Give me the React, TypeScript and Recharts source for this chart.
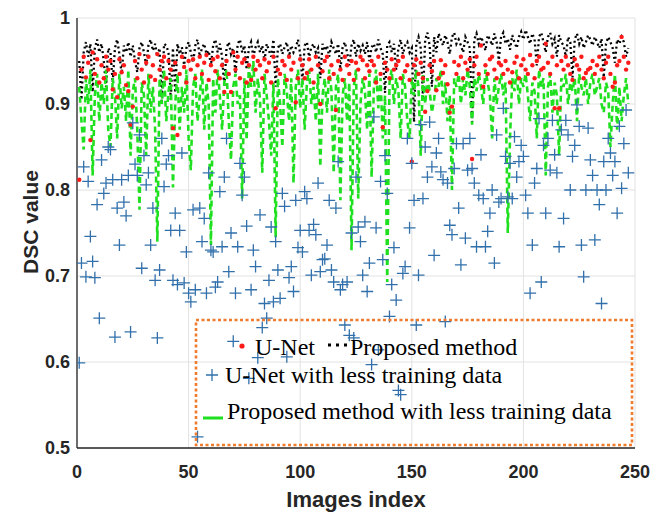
import React from 'react';
import { ComposedChart, Line, XAxis, YAxis, CartesianGrid } from 'recharts';

// U-Net (red dots)
const unet = [
  0.812, 0.94, 0.955, 0.931, 0.948, 0.858, 0.96, 0.935, 0.952, 0.925,
  0.945, 0.93, 0.955, 0.94, 0.95, 0.917, 0.935, 0.908, 0.952, 0.937,
  0.945, 0.922, 0.915, 0.876, 0.897, 0.95, 0.93, 0.958, 0.94, 0.925,
  0.948, 0.955, 0.932, 0.945, 0.928, 0.958, 0.94, 0.95, 0.955, 0.93,
  0.95, 0.94, 0.872, 0.948, 0.864, 0.935, 0.955, 0.943, 0.925, 0.95,
  0.94, 0.952, 0.93, 0.945, 0.955, 0.935, 0.948, 0.957, 0.928, 0.945,
  0.952, 0.938, 0.955, 0.93, 0.945, 0.914, 0.95, 0.935, 0.914, 0.96,
  0.94, 0.955, 0.93, 0.948, 0.952, 0.925, 0.945, 0.928, 0.955, 0.94,
  0.95, 0.945, 0.93, 0.952, 0.938, 0.948, 0.925, 0.955, 0.895, 0.94,
  0.935, 0.95, 0.945, 0.928, 0.955, 0.94, 0.948, 0.902, 0.93, 0.952,
  0.945, 0.93, 0.936, 0.952, 0.94, 0.925, 0.955, 0.945, 0.9, 0.938,
  0.95, 0.955, 0.93, 0.945, 0.935, 0.893, 0.95, 0.94, 0.928, 0.955,
  0.945, 0.935, 0.95, 0.928, 0.948, 0.94, 0.955, 0.951, 0.93, 0.945,
  0.938, 0.95, 0.945, 0.925, 0.955, 0.935, 0.873, 0.948, 0.94, 0.93,
  0.952, 0.94, 0.945, 0.95, 0.93, 0.955, 0.938, 0.945, 0.928, 0.833,
  0.945, 0.952, 0.935, 0.948, 0.93, 0.891, 0.915, 0.945, 0.938, 0.95,
  0.916, 0.93, 0.951, 0.936, 0.945, 0.923, 0.89, 0.897, 0.949, 0.935,
  0.945, 0.955, 0.93, 0.948, 0.94, 0.952, 0.836, 0.945, 0.955, 0.935,
  0.968, 0.92, 0.945, 0.935, 0.952, 0.955, 0.94, 0.93, 0.948, 0.945,
  0.935, 0.95, 0.94, 0.925, 0.937, 0.948, 0.955, 0.93, 0.945, 0.952,
  0.94, 0.935, 0.957, 0.945, 0.93, 0.95, 0.955, 0.94, 0.942, 0.97,
  0.948, 0.935, 0.955, 0.895, 0.945, 0.895, 0.95, 0.94, 0.955, 0.945,
  0.935, 0.928, 0.952, 0.945, 0.94, 0.955, 0.93, 0.936, 0.94, 0.942,
  0.95, 0.935, 0.945, 0.955, 0.94, 0.93, 0.948, 0.955, 0.935, 0.92,
  0.925, 0.945, 0.95, 0.978, 0.955, 0.94, 0.948,
];

// Proposed method (black dotted)
const proposed = [
  0.95, 0.905, 0.96, 0.972, 0.955, 0.97, 0.914, 0.965, 0.975, 0.96,
  0.97, 0.95, 0.92, 0.965, 0.96, 0.925, 0.965, 0.975, 0.958, 0.935,
  0.968, 0.96, 0.972, 0.955, 0.968, 0.95, 0.937, 0.965, 0.972, 0.96,
  0.945, 0.968, 0.975, 0.962, 0.97, 0.955, 0.965, 0.9, 0.97, 0.968,
  0.96, 0.905, 0.965, 0.913, 0.97, 0.958, 0.966, 0.945, 0.965, 0.972,
  0.96, 0.948, 0.968, 0.975, 0.955, 0.965, 0.97, 0.958, 0.962, 0.945,
  0.968, 0.975, 0.96, 0.97, 0.955, 0.92, 0.965, 0.972, 0.958, 0.965,
  0.935, 0.97, 0.975, 0.96, 0.968, 0.94, 0.965, 0.972, 0.955, 0.966,
  0.972, 0.96, 0.968, 0.95, 0.97, 0.962, 0.955, 0.975, 0.92, 0.965,
  0.97, 0.958, 0.966, 0.972, 0.955, 0.968, 0.96, 0.965, 0.975, 0.958,
  0.928, 0.968, 0.972, 0.955, 0.966, 0.97, 0.96, 0.965, 0.93, 0.97,
  0.962, 0.968, 0.955, 0.972, 0.965, 0.958, 0.97, 0.94, 0.966, 0.972,
  0.96, 0.945, 0.968, 0.975, 0.955, 0.97, 0.962, 0.968, 0.958, 0.972,
  0.95, 0.966, 0.97, 0.96, 0.975, 0.965, 0.958, 0.913, 0.968, 0.972,
  0.96, 0.97, 0.94, 0.965, 0.975, 0.958, 0.968, 0.972, 0.96, 0.965,
  0.879, 0.97, 0.978, 0.965, 0.908, 0.975, 0.983, 0.968, 0.92, 0.978,
  0.96, 0.982, 0.975, 0.968, 0.98, 0.972, 0.958, 0.978, 0.983, 0.97,
  0.975, 0.968, 0.96, 0.978, 0.972, 0.965, 0.879, 0.975, 0.982, 0.97,
  0.978, 0.972, 0.962, 0.98, 0.975, 0.968, 0.982, 0.972, 0.951, 0.978,
  0.983, 0.97, 0.976, 0.963, 0.98, 0.972, 0.965, 0.978, 0.984, 0.975,
  0.986, 0.978, 0.97, 0.982, 0.975, 0.945, 0.978, 0.983, 0.972, 0.96,
  0.978, 0.983, 0.97, 0.976, 0.955, 0.98, 0.972, 0.968, 0.955, 0.978,
  0.972, 0.931, 0.975, 0.982, 0.97, 0.978, 0.965, 0.972, 0.98, 0.975,
  0.968, 0.978, 0.972, 0.965, 0.976, 0.931, 0.97, 0.978, 0.972, 0.965,
  0.948, 0.975, 0.97, 0.978, 0.972, 0.955, 0.965,
];

// U-Net with less training data (blue plus)
const unetLess = [
  0.599, 0.715, 0.827, 0.699, 0.81, 0.746, 0.717, 0.698, 0.783, 0.651,
  0.835, 0.796, 0.808, 0.85, 0.847, 0.812, 0.629, 0.779, 0.736, 0.812,
  0.786, 0.77, 0.817, 0.635, 0.878, 0.83, 0.817, 0.864, 0.709, 0.84,
  0.806, 0.82, 0.736, 0.779, 0.695, 0.628, 0.707, 0.86, 0.804, 0.83,
  0.84, 0.753, 0.695, 0.773, 0.69, 0.753, 0.843, 0.692, 0.728, 0.68,
  0.67, 0.777, 0.684, 0.513, 0.779, 0.74, 0.767, 0.68, 0.82, 0.73,
  0.728, 0.687, 0.693, 0.798, 0.734, 0.815, 0.86, 0.705, 0.75, 0.624,
  0.68, 0.734, 0.831, 0.794, 0.815, 0.758, 0.581, 0.684, 0.73, 0.711,
  0.605, 0.771, 0.64, 0.668, 0.651, 0.695, 0.757, 0.67, 0.74, 0.707,
  0.674, 0.796, 0.781, 0.606, 0.698, 0.711, 0.682, 0.788, 0.733, 0.753,
  0.728, 0.798, 0.79, 0.753, 0.701, 0.76, 0.748, 0.808, 0.705, 0.719,
  0.72, 0.736, 0.788, 0.707, 0.693, 0.779, 0.833, 0.684, 0.69, 0.643,
  0.693, 0.631, 0.75, 0.628, 0.815, 0.757, 0.74, 0.701, 0.763, 0.682,
  0.715, 0.597, 0.885, 0.756, 0.614, 0.81, 0.719, 0.84, 0.796, 0.653,
  0.69, 0.733, 0.672, 0.567, 0.562, 0.703, 0.711, 0.86, 0.756, 0.831,
  0.788, 0.643, 0.701, 0.876, 0.79, 0.85, 0.815, 0.879, 0.827, 0.724,
  0.843, 0.86, 0.821, 0.812, 0.647, 0.808, 0.759, 0.748, 0.825, 0.854,
  0.779, 0.713, 0.854, 0.744, 0.823, 0.86, 0.825, 0.808, 0.734, 0.794,
  0.841, 0.79, 0.734, 0.752, 0.773, 0.8, 0.715, 0.864, 0.786, 0.79,
  0.895, 0.839, 0.792, 0.831, 0.79, 0.862, 0.815, 0.833, 0.852, 0.839,
  0.794, 0.773, 0.68, 0.736, 0.808, 0.825, 0.883, 0.693, 0.852, 0.773,
  0.86, 0.823, 0.881, 0.841, 0.82, 0.734, 0.87, 0.767, 0.881, 0.864,
  0.8, 0.839, 0.852, 0.899, 0.874, 0.736, 0.699, 0.8, 0.872, 0.835,
  0.817, 0.742, 0.8, 0.783, 0.668, 0.833, 0.8, 0.86, 0.843, 0.817,
  0.833, 0.773, 0.874, 0.802, 0.854, 0.893, 0.82,
];

// Proposed method with less training data (green dashed)
const proposedLess = [
  0.92, 0.88, 0.847, 0.93, 0.9, 0.94, 0.817, 0.91, 0.935, 0.88,
  0.925, 0.9, 0.94, 0.87, 0.85, 0.93, 0.91, 0.86, 0.935, 0.895,
  0.92, 0.88, 0.94, 0.84, 0.915, 0.93, 0.87, 0.777, 0.925, 0.91,
  0.84, 0.935, 0.89, 0.92, 0.87, 0.74, 0.93, 0.9, 0.94, 0.88,
  0.915, 0.93, 0.803, 0.9, 0.935, 0.87, 0.92, 0.89, 0.94, 0.86,
  0.823, 0.92, 0.935, 0.88, 0.91, 0.94, 0.87, 0.925, 0.9, 0.736,
  0.93, 0.89, 0.94, 0.91, 0.87, 0.925, 0.94, 0.88, 0.835, 0.92,
  0.935, 0.9, 0.91, 0.79, 0.93, 0.858, 0.945, 0.92, 0.95, 0.89,
  0.93, 0.905, 0.82, 0.935, 0.91, 0.88, 0.84, 0.925, 0.745, 0.93,
  0.9, 0.85, 0.935, 0.915, 0.88, 0.93, 0.808, 0.92, 0.94, 0.895,
  0.93, 0.87, 0.925, 0.94, 0.9, 0.92, 0.88, 0.935, 0.827, 0.91,
  0.93, 0.89, 0.94, 0.915, 0.82, 0.92, 0.935, 0.788, 0.91, 0.93,
  0.88, 0.925, 0.73, 0.92, 0.94, 0.79, 0.9, 0.93, 0.915, 0.87,
  0.935, 0.815, 0.92, 0.94, 0.895, 0.93, 0.86, 0.91, 0.693, 0.925,
  0.94, 0.9, 0.93, 0.915, 0.86, 0.935, 0.92, 0.88, 0.86, 0.93,
  0.91, 0.94, 0.92, 0.84, 0.935, 0.9, 0.93, 0.915, 0.89, 0.905,
  0.93, 0.92, 0.94, 0.9, 0.925, 0.88, 0.91, 0.8, 0.93, 0.92,
  0.935, 0.9, 0.93, 0.91, 0.94, 0.92, 0.876, 0.93, 0.915, 0.935,
  0.92, 0.9, 0.94, 0.925, 0.91, 0.86, 0.93, 0.9, 0.92, 0.935,
  0.91, 0.925, 0.75, 0.86, 0.93, 0.915, 0.94, 0.9, 0.93, 0.92,
  0.935, 0.91, 0.88, 0.925, 0.915, 0.86, 0.94, 0.92, 0.93, 0.817,
  0.92, 0.935, 0.89, 0.925, 0.91, 0.84, 0.93, 0.92, 0.935, 0.9,
  0.925, 0.915, 0.93, 0.88, 0.935, 0.92, 0.91, 0.93, 0.9, 0.925,
  0.935, 0.91, 0.92, 0.93, 0.9, 0.89, 0.925, 0.915, 0.85, 0.9,
  0.935, 0.87, 0.92, 0.88, 0.91, 0.93, 0.9,
];

const xTicks = [0, 50, 100, 150, 200, 250];
const yTicks = [0.5, 0.6, 0.7, 0.8, 0.9, 1];

const legendLabels = [
  'U-Net',
  'Proposed method',
  'U-Net with less training data',
  'Proposed method with less training data',
];

const data = proposed.map((p, k) => ({
  idx: k + 1,
  unet: unet[k],
  proposed: p,
  unetLess: unetLess[k],
  proposedLess: proposedLess[k],
}));

const RED = '#ff1a1a';
const BLUE = '#3170ab';
const GREEN = '#1fe01f';
const ORANGE = '#f07b2c';

const RedDot = (props: any) => {
  const { cx, cy, index } = props;
  if (cx == null || cy == null) return <g key={`r${index}`} />;
  return <circle key={`r${index}`} cx={cx} cy={cy} r={2.2} fill={RED} />;
};

const BluePlus = (props: any) => {
  const { cx, cy, index } = props;
  if (cx == null || cy == null) return <g key={`b${index}`} />;
  const s = 6;
  return (
    <path
      key={`b${index}`}
      d={`M${cx - s},${cy}H${cx + s}M${cx},${cy - s}V${cy + s}`}
      stroke={BLUE}
      strokeWidth={1.3}
      fill="none"
    />
  );
};

const tickStyle = {
  fontFamily: '"Liberation Sans", Arial, sans-serif',
  fontWeight: 700,
  fontSize: 18,
  fill: '#262626',
};

const serif = '"Liberation Serif", "Times New Roman", serif';

export default function App() {
  return (
    <div style={{ position: 'absolute', left: 0, top: 0, width: 651, height: 513, background: '#fff' }}>
      <ComposedChart
        width={651}
        height={513}
        data={data}
        margin={{ top: 18, right: 16, bottom: 0, left: 0 }}
      >
        <CartesianGrid stroke="#e2e2e2" strokeWidth={1} />
        <XAxis
          type="number"
          dataKey="idx"
          domain={[0, 250]}
          ticks={xTicks}
          allowDataOverflow
          height={65}
          tickLine={false}
          tickSize={0}
          tickMargin={17}
          axisLine={{ stroke: '#262626', strokeWidth: 1.3 }}
          tick={tickStyle}
        />
        <YAxis
          type="number"
          domain={[0.5, 1]}
          ticks={yTicks}
          allowDataOverflow
          width={77}
          tickLine={false}
          tickSize={0}
          tickMargin={7}
          axisLine={{ stroke: '#262626', strokeWidth: 1.3 }}
          tick={tickStyle}
          tickFormatter={(v: number) => (v === 1 ? '1' : v.toFixed(1))}
        />
        <Line
          dataKey="unet"
          stroke="none"
          dot={RedDot}
          activeDot={false}
          isAnimationActive={false}
        />
        <Line
          dataKey="proposed"
          stroke="#000"
          strokeWidth={2.3}
          strokeDasharray="2 3"
          strokeLinecap="butt"
          dot={false}
          activeDot={false}
          isAnimationActive={false}
        />
        <Line
          dataKey="unetLess"
          stroke="none"
          dot={BluePlus}
          activeDot={false}
          isAnimationActive={false}
        />
        <Line
          dataKey="proposedLess"
          stroke={GREEN}
          strokeWidth={2.6}
          strokeDasharray="6 4"
          strokeLinecap="butt"
          dot={false}
          activeDot={false}
          isAnimationActive={false}
        />
      </ComposedChart>
      <svg
        width={651}
        height={513}
        style={{ position: 'absolute', left: 0, top: 0, pointerEvents: 'none' }}
      >
        <text
          x={356}
          y={507}
          textAnchor="middle"
          fontFamily={'"Liberation Sans", Arial, sans-serif'}
          fontWeight={700}
          fontSize={22}
          fill="#262626"
        >
          Images index
        </text>
        <text
          x={38}
          y={222}
          textAnchor="middle"
          transform="rotate(-90 38 222)"
          fontFamily={'"Liberation Sans", Arial, sans-serif'}
          fontWeight={700}
          fontSize={21}
          fill="#262626"
        >
          DSC value
        </text>
        <rect
          x={196}
          y={320}
          width={436}
          height={125}
          fill="none"
          stroke={ORANGE}
          strokeWidth={2.6}
          strokeDasharray="3 2.5"
        />
        <circle cx={242} cy={346} r={2.6} fill={RED} />
        <text x={255} y={355} fontFamily={serif} fontSize={24} fill="#000">
          {legendLabels[0]}
        </text>
        <rect x={328} y={343.5} width={3} height={3} fill="#000" />
        <rect x={336} y={343.5} width={3} height={3} fill="#000" />
        <rect x={344} y={343.5} width={3} height={3} fill="#000" />
        <text x={350} y={355} fontFamily={serif} fontSize={24} fill="#000">
          {legendLabels[1]}
        </text>
        <path d="M206,375H218M212,369V381" stroke={BLUE} strokeWidth={1.3} />
        <text x={225} y={383} fontFamily={serif} fontSize={24} fill="#000">
          {legendLabels[2]}
        </text>
        <line x1={203} y1={418} x2={223} y2={418} stroke={GREEN} strokeWidth={3} />
        <text x={227} y={419} fontFamily={serif} fontSize={24} fill="#000">
          {legendLabels[3]}
        </text>
      </svg>
    </div>
  );
}
